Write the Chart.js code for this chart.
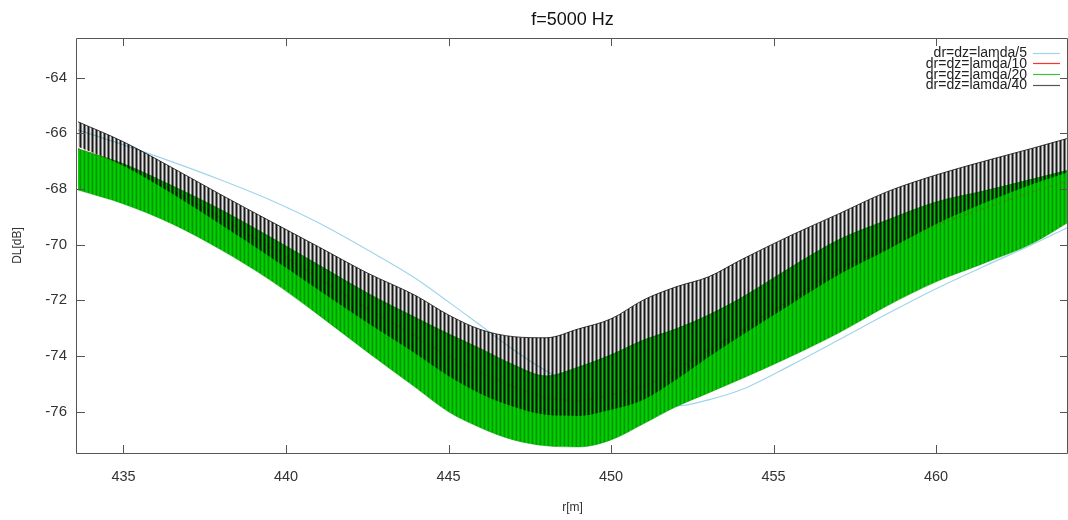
<!DOCTYPE html>
<html>
<head>
<meta charset="utf-8">
<script src="https://cdn.jsdelivr.net/npm/chart.js@4.4.1/dist/chart.umd.min.js"></script>
<style>
  html, body { margin: 0; padding: 0; background: #fff; }
  #wrap { width: 1068px; height: 520px; }
</style>
</head>
<body>
<div id="wrap"><canvas id="dlChart"></canvas></div>
<script>
var rPos = [433.6, 435, 436.5, 438, 439.5, 441, 442.5, 444, 445, 446, 447, 448, 449, 450,
            451, 452, 453, 454, 455.5, 457, 458.5, 460, 461.5, 463, 464.1];

// dr=dz=lamda/5 (smooth)
var lamda5 = [-65.88, -66.42, -67.03, -67.68, -68.39, -69.22, -70.19, -71.23, -72.06, -72.92, -73.78, -74.54,
              -75.15, -75.54, -75.76, -75.80, -75.58, -75.22, -74.36, -73.43, -72.49, -71.59, -70.77, -69.98, -69.36];
// dr=dz=lamda/10 (mostly hidden under the others)
var lamda10 = [-66.55, -67.15, -68.05, -69.05, -70.1, -71.2, -72.3, -73.3, -74.0, -74.6, -75.1, -75.5,
               -75.6, -75.4, -75.1, -74.5, -73.8, -73.1, -72.0, -70.9, -70.1, -69.3, -68.7, -68.1, -67.7];
// dr=dz=lamda/20, upper and lower edge of the oscillation
var lamda20Top = [-66.56, -67.10, -67.89, -68.75, -69.72, -70.73, -71.74, -72.63, -73.21, -73.75, -74.32, -74.72,
                  -74.40, -73.96, -73.43, -73.03, -72.53, -71.92, -70.84, -69.83, -69.12, -68.47, -68.07, -67.64, -67.32];
var lamda20Bottom = [-68.04, -68.54, -69.26, -70.19, -71.27, -72.53, -73.86, -75.15, -76.01, -76.59, -77.02, -77.23,
                     -77.27, -77.02, -76.44, -75.83, -75.33, -74.83, -74.04, -73.18, -72.20, -71.34, -70.66, -69.94, -69.18];
// dr=dz=lamda/40, upper and lower edge of the oscillation
var lamda40Top = [-65.59, -66.31, -67.24, -68.21, -69.15, -70.08, -71.02, -71.84, -72.53, -73.06, -73.31, -73.35,
                  -73.03, -72.67, -71.99, -71.52, -71.16, -70.55, -69.69, -68.90, -68.10, -67.50, -67.00, -66.53, -66.17];
var lamda40Bottom = [-66.49, -67.17, -68.18, -69.29, -70.44, -71.63, -72.81, -73.93, -74.72, -75.37, -75.83, -76.12,
                     -76.16, -75.94, -75.58, -74.86, -74.04, -73.28, -72.17, -71.09, -70.19, -69.26, -68.50, -67.82, -67.39];

var xTicks = [435, 440, 445, 450, 455, 460];
var yTicks = [-76, -74, -72, -70, -68, -66, -64];
var legendNames = ['dr=dz=lamda/5', 'dr=dz=lamda/10', 'dr=dz=lamda/20', 'dr=dz=lamda/40'];
var legendColors = ['#a0d4ec', '#ff3030', '#40c040', '#555555'];

var FONT = '"Liberation Sans", Arial, sans-serif';

function pts(ys) {
  return rPos.map(function (r, i) { return { x: r, y: ys[i] }; });
}

// vertical stripe pattern to mimic the dense oscillation
function stripes(cols) {
  var c = document.createElement('canvas');
  c.width = cols.length; c.height = 1;
  var g = c.getContext('2d');
  cols.forEach(function (col, i) { g.fillStyle = col; g.fillRect(i, 0, 1, 1); });
  return g.createPattern(c, 'repeat');
}
var blackBand = stripes(['rgba(0,0,0,0.9)', 'rgba(0,0,0,0.5)', 'rgba(0,0,0,0.1)', 'rgba(0,0,0,0.5)']);
var greenBand = stripes(['rgb(0,150,0)', 'rgb(0,195,0)', 'rgb(10,205,10)', 'rgb(0,185,0)']);

// gnuplot-like frame with inward ticks + legend
var framePlugin = {
  id: 'frame',
  afterDraw: function (chart) {
    var ctx = chart.ctx, a = chart.chartArea;
    var xs = chart.scales.x, ys = chart.scales.y;
    ctx.save();
    ctx.strokeStyle = '#555';
    ctx.lineWidth = 1;
    ctx.beginPath();
    ctx.rect(a.left - 0.5, a.top + 0.5, a.right - a.left, a.bottom - a.top);
    xTicks.forEach(function (v) {
      var px = Math.round(xs.getPixelForValue(v)) + 0.5;
      ctx.moveTo(px, a.bottom); ctx.lineTo(px, a.bottom - 8);
      ctx.moveTo(px, a.top); ctx.lineTo(px, a.top + 8);
    });
    yTicks.forEach(function (v) {
      var py = Math.round(ys.getPixelForValue(v)) + 0.5;
      ctx.moveTo(a.left, py); ctx.lineTo(a.left + 8, py);
      ctx.moveTo(a.right, py); ctx.lineTo(a.right - 8, py);
    });
    ctx.stroke();

    // legend
    ctx.font = '14px ' + FONT;
    ctx.textAlign = 'right';
    ctx.textBaseline = 'middle';
    for (var i = 0; i < legendNames.length; i++) {
      var y = 52.5 + i * 10.7;
      ctx.fillStyle = '#222';
      ctx.fillText(legendNames[i], 1027, y + 1);
      ctx.beginPath();
      ctx.strokeStyle = legendColors[i];
      ctx.lineWidth = 1.2;
      ctx.moveTo(1033, Math.round(y) + 0.5);
      ctx.lineTo(1060, Math.round(y) + 0.5);
      ctx.stroke();
    }
    ctx.restore();
  }
};

var lineBase = { pointRadius: 0, cubicInterpolationMode: 'monotone' };
function ds(extra) { return Object.assign({}, lineBase, extra); }

var ctx = document.getElementById('dlChart').getContext('2d');
var dlChart = new Chart(ctx, {
  type: 'line',
  data: {
    datasets: [
      ds({ label: legendNames[0], data: pts(lamda5), borderColor: 'rgb(160,212,236)', borderWidth: 1.2,
           fill: false, order: 6 }),
      ds({ label: legendNames[1], data: pts(lamda10), borderColor: 'rgba(170,60,10,0.45)', borderWidth: 1.5,
           borderDash: [2, 4], fill: false, order: 3 }),
      ds({ label: legendNames[2], data: pts(lamda20Top), borderColor: 'rgba(0,150,0,0.7)', borderWidth: 1,
           fill: false, order: 4 }),
      ds({ label: legendNames[2] + ' low', data: pts(lamda20Bottom), borderColor: 'rgba(0,160,0,0.5)', borderWidth: 1,
           backgroundColor: greenBand, fill: 2, order: 4 }),
      ds({ label: legendNames[3], data: pts(lamda40Top), borderColor: 'rgba(0,0,0,0.75)', borderWidth: 1,
           fill: false, order: 1 }),
      ds({ label: legendNames[3] + ' low', data: pts(lamda40Bottom), borderColor: 'rgba(0,0,0,0)', borderWidth: 0,
           backgroundColor: blackBand, fill: 4, order: 2 })
    ]
  },
  options: {
    responsive: true,
    maintainAspectRatio: false,
    animation: false,
    devicePixelRatio: 1,
    layout: { padding: 0 },
    scales: {
      x: {
        type: 'linear',
        min: 433.57,
        max: 464.06,
        grid: { display: false },
        border: { display: false },
        afterBuildTicks: function (s) { s.ticks = xTicks.map(function (v) { return { value: v }; }); },
        afterFit: function (s) { s.height = 67; },
        ticks: { color: '#333', font: { family: FONT, size: 14.5 }, padding: 7, maxRotation: 0 },
        title: { display: true, text: 'r[m]', color: '#333', font: { family: FONT, size: 12 },
                 padding: { top: 0, bottom: 5 } }
      },
      y: {
        min: -77.49,
        max: -62.58,
        grid: { display: false },
        border: { display: false },
        afterBuildTicks: function (s) { s.ticks = yTicks.map(function (v) { return { value: v }; }); },
        afterFit: function (s) { s.width = 77; },
        ticks: { color: '#333', font: { family: FONT, size: 15 }, padding: 2 },
        title: { display: true, text: 'DL[dB]', color: '#333', font: { family: FONT, size: 12 },
                 padding: { top: 10, bottom: 0 } }
      }
    },
    plugins: {
      legend: { display: false },
      tooltip: { enabled: false },
      title: {
        display: true,
        fullSize: false,
        text: 'f=5000 Hz',
        color: '#111',
        font: { family: FONT, size: 18, weight: 'normal' },
        padding: { top: 9.2, bottom: 7.2 }
      }
    }
  },
  plugins: [framePlugin]
});
</script>
</body>
</html>
